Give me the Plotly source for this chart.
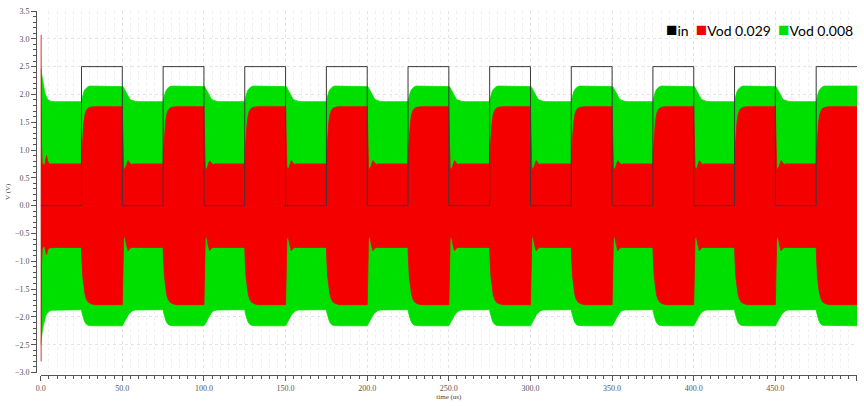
import plotly.graph_objects as go

# ---- time span (us) ----
T_END = 500.0

# ---- input square wave: edges (us) and levels (V) ----
rise_edges = [25, 75, 125, 175, 225, 275, 325, 375, 425, 475]
fall_edges = [50, 100, 150, 200, 250, 300, 350, 400, 450]
in_low, in_high = 0.0, 2.5

# ---- output envelopes at power-up (time from 0 us) ----
start_t = [0.0, 0.12, 0.25, 0.5, 0.9, 1.5, 2.4, 3.0, 3.6, 4.3, 5.2, 6.5, 9.0]
red_up_start = [0.0, 3.07, 2.00, 1.10, 0.78, 0.74, 0.72, 0.80, 0.90, 0.80, 0.75, 0.75, 0.75]
red_lo_start = [0.0, -2.80, -1.90, -1.05, -0.78, -0.74, -0.72, -0.82, -0.88, -0.80, -0.76, -0.75, -0.75]
green_up_start = [2.47, 2.46, 2.43, 2.38, 2.30, 2.18, 2.05, 1.99, 1.95, 1.91, 1.89, 1.875, 1.87]
green_lo_start = [-2.50, -2.48, -2.44, -2.38, -2.28, -2.17, -2.05, -1.99, -1.95, -1.92, -1.90, -1.88, -1.87]

# ---- envelopes after a rising input edge (time from the edge, us) ----
rise_dt = [0.0, 0.3, 0.8, 1.5, 2.2, 3.0, 4.0, 5.5, 8.0]
red_up_rise = [0.75, 1.00, 1.30, 1.50, 1.64, 1.71, 1.75, 1.77, 1.78]
red_lo_rise = [-0.75, -1.00, -1.28, -1.47, -1.60, -1.68, -1.73, -1.76, -1.78]
green_up_rise = [1.87, 1.92, 1.99, 2.05, 2.09, 2.12, 2.14, 2.15, 2.15]
green_lo_rise = [-1.87, -1.92, -1.99, -2.05, -2.10, -2.13, -2.15, -2.16, -2.16]

# ---- envelopes after a falling input edge (time from the edge, us) ----
fall_dt = [0.0, 0.4, 0.8, 1.5, 2.5, 3.5, 4.5, 5.5, 6.5, 8.0, 10.0]
red_up_fall = [1.78, 1.20, 0.70, 0.64, 0.72, 0.81, 0.77, 0.74, 0.75, 0.75, 0.75]
red_lo_fall = [-1.78, -1.10, -0.60, -0.54, -0.70, -0.81, -0.77, -0.75, -0.75, -0.75, -0.75]
green_up_fall = [2.15, 2.14, 2.12, 2.08, 2.02, 1.96, 1.92, 1.90, 1.885, 1.875, 1.87]
green_lo_fall = [-2.16, -2.15, -2.13, -2.09, -2.03, -1.97, -1.93, -1.90, -1.885, -1.875, -1.87]

# ---- series names / colours ----
names = ["in", "Vod 0.029", "Vod 0.008"]
colors = ["#000000", "#F40000", "#00E000"]

edges = sorted([(e, "r") for e in rise_edges] + [(e, "f") for e in fall_edges])


def envelope(start_vals, rise_vals, fall_vals):
    t, v = list(start_t), list(start_vals)
    for e, kind in edges:
        dts, vals = (rise_dt, rise_vals) if kind == "r" else (fall_dt, fall_vals)
        for dt, val in zip(dts, vals):
            t.append(e + dt)
            v.append(val)
    t.append(T_END)
    v.append(v[-1])
    return t, v


def band(up, lo):
    t_up, v_up = up
    t_lo, v_lo = lo
    return t_up + t_lo[::-1], v_up + v_lo[::-1]


# square-wave input
x_in, y_in = [0.0], [in_low]
level = in_low
for e, kind in edges:
    new = in_high if kind == "r" else in_low
    x_in += [e, e]
    y_in += [level, new]
    level = new
x_in.append(T_END)
y_in.append(level)

gx, gy = band(envelope(green_up_start, green_up_rise, green_up_fall),
              envelope(green_lo_start, green_lo_rise, green_lo_fall))
rx, ry = band(envelope(red_up_start, red_up_rise, red_up_fall),
              envelope(red_lo_start, red_lo_rise, red_lo_fall))

fig = go.Figure()
fig.add_trace(go.Scatter(x=gx, y=gy, mode="lines", fill="toself",
                         fillcolor=colors[2], line=dict(color=colors[2], width=0.8),
                         name=names[2], showlegend=False, hoverinfo="skip"))
fig.add_trace(go.Scatter(x=rx, y=ry, mode="lines", fill="toself",
                         fillcolor=colors[1], line=dict(color=colors[1], width=0.8),
                         name=names[1], showlegend=False, hoverinfo="skip"))
fig.add_trace(go.Scatter(x=x_in, y=y_in, mode="lines",
                         line=dict(color="#3a3a3a", width=1),
                         name=names[0], showlegend=False))

# legend drawn as a single text line with coloured squares
legend_html = "  ".join(
    f'<span style="color:{c};font-size:19px">■</span>{n}' for n, c in zip(names, colors)
)
fig.add_annotation(text=legend_html, xref="paper", yref="paper",
                   x=0.9976, y=0.951, xanchor="right", yanchor="middle",
                   showarrow=False, font=dict(family="Lato", size=14, color="#000"))

axis_col = "#555555"
tick_font = dict(family="Liberation Serif", size=8, color="#555555")

fig.update_layout(
    width=864, height=406,
    margin=dict(l=36, r=7, t=8, b=28),
    paper_bgcolor="white", plot_bgcolor="white",
    showlegend=False,
    xaxis=dict(
        range=[0, T_END], domain=[0.0057, 1.0], anchor="free", position=0.0,
        tick0=0, dtick=50, tickformat=".1f",
        ticks="outside", ticklen=5, tickcolor=axis_col, tickwidth=1,
        showline=True, linecolor=axis_col, linewidth=1,
        showgrid=True, gridcolor="#e4e4e4", griddash="dot", gridwidth=1,
        zeroline=False, tickfont=tick_font,
        minor=dict(dtick=5, ticks="outside", ticklen=3, tickcolor=axis_col,
                   showgrid=True, gridcolor="#efefef", griddash="dot"),
        title=dict(text="time (us)", font=dict(family="Liberation Serif", size=7, color="#444"),
                   standoff=2),
    ),
    yaxis=dict(
        range=[-3.0, 3.5], domain=[0.0068, 1.0], anchor="free", position=0.0,
        tick0=0, dtick=0.5, tickformat=".1f",
        ticks="outside", ticklen=5, tickcolor=axis_col, tickwidth=1,
        showline=True, linecolor=axis_col, linewidth=1,
        showgrid=True, gridcolor="#e4e4e4", griddash="dot", gridwidth=1,
        zeroline=False, tickfont=tick_font,
        minor=dict(dtick=0.1, ticks="outside", ticklen=3, tickcolor=axis_col, showgrid=False),
        title=dict(text="V (V)", font=dict(family="Liberation Serif", size=7, color="#444"),
                   standoff=2),
    ),
)

fig.write_html("out.html")
